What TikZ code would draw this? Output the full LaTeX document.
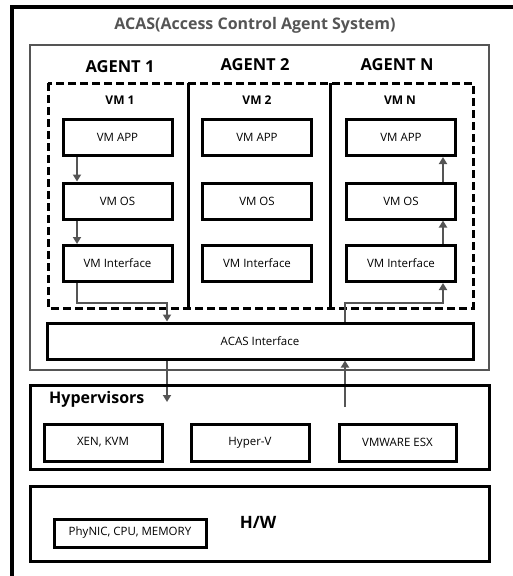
\documentclass[tikz,border=0pt]{standalone}
\usepackage{fontspec}
\setmainfont{Open Sans}
\usetikzlibrary{arrows.meta,calc}
\definecolor{dgray}{HTML}{555555}
\begin{document}
\begin{tikzpicture}[x=1pt,y=-1pt,
  box/.style={draw=black,line width=3pt,minimum width=109pt,minimum height=36pt,inner sep=0pt,font=\fontsize{11.5}{13}\selectfont},
  frame/.style={draw=black,line width=3pt},
  gframe/.style={draw=dgray,line width=2.8pt},
  arr/.style={draw=dgray,line width=2.4pt,-{Triangle[length=7pt,width=8pt]}},
  agent/.style={font=\fontsize{16.5}{18}\selectfont\bfseries},
  vmlbl/.style={font=\fontsize{12}{14}\selectfont\bfseries},
  lbl/.style={inner sep=0pt}]
\useasboundingbox (0,0) rectangle (513,576);
% outer frame (only top and left visible)
\draw[line width=3.2pt] (513,7) -- (12,7) -- (12,580);
\node[lbl,text=dgray,font=\fontsize{16}{18}\selectfont\bfseries] (title) at (255,25) {ACAS(Access Control Agent System)};
% ACAS gray frame
\draw[gframe] (30,45) rectangle (489,370);
\node[lbl,agent] (ag1) at (120,67) {AGENT 1};
\node[lbl,agent] (ag2) at (255,65) {AGENT 2};
\node[lbl,agent] (agn) at (397,65) {AGENT N};
% dashed VM region
\draw[line width=3pt,dash pattern=on 8pt off 4pt] (48,83) rectangle (473,308);
\draw[line width=3pt] (188,83) -- (188,308);
\draw[line width=3pt] (330,83) -- (330,308);
\node[lbl,vmlbl] (vm1) at (120,100) {VM 1};
\node[lbl,vmlbl] (vm2) at (257,100) {VM 2};
\node[lbl,vmlbl] (vmn) at (400,100) {VM N};
% VM boxes
\node[box] (app1) at (117.5,137.5) {VM APP};
\node[box] (app2) at (257,137.5) {VM APP};
\node[box] (appn) at (401,137.5) {VM APP};
\node[box] (os1) at (117.5,201) {VM OS};
\node[box] (os2) at (257,201) {VM OS};
\node[box] (osn) at (401,201) {VM OS};
\node[box] (if1) at (117.5,263.5) {VM Interface};
\node[box] (if2) at (257,263.5) {VM Interface};
\node[box] (ifn) at (401,263.5) {VM Interface};
% ACAS interface
\node[box,minimum width=426pt] (acas) at (260,341) {ACAS Interface};
% coordinates for routing
\coordinate (xl) at (77,0);
\coordinate (xr) at (443,0);
\coordinate (j1) at (167,303);
\coordinate (j2) at (345,303);
\coordinate (hin) at (167,402);
\coordinate (hout) at (345,407);
% arrows
\draw[arr] (app1.south -| xl) -- (os1.north -| xl);
\draw[arr] (os1.south -| xl) -- (if1.north -| xl);
\draw[arr] (if1.south -| xl) |- (j1) -- (j1 |- acas.north);
\draw[arr] (j2 |- acas.north) -- (j2) -| (ifn.south -| xr);
\draw[arr] (ifn.north -| xr) -- (osn.south -| xr);
\draw[arr] (osn.north -| xr) -- (appn.south -| xr);
\draw[arr] (j1 |- acas.south) -- (hin);
\draw[arr] (hout) -- (j2 |- acas.south);
% Hypervisors
\draw[frame] (30,385) rectangle (489,469);
\node[lbl,anchor=west,font=\fontsize{16}{18}\selectfont\bfseries] (hyp) at (49,399) {Hypervisors};
\node[box,minimum width=118pt,minimum height=37pt] (xen) at (103,442.5) {XEN, KVM};
\node[box,minimum width=118pt,minimum height=37pt] (hv) at (250,442.5) {Hyper-V};
\node[box,minimum width=117pt,minimum height=37pt] (vmw) at (397.5,442.5) {VMWARE ESX};
% H/W
\draw[frame] (30,486) rectangle (489,561);
\node[lbl,font=\fontsize{17}{19}\selectfont\bfseries] (hw) at (258,522) {H/W};
\node[box,minimum width=152pt,minimum height=28pt] (phy) at (130,533) {PhyNIC,\ CPU, MEMORY};
\end{tikzpicture}
\end{document}
